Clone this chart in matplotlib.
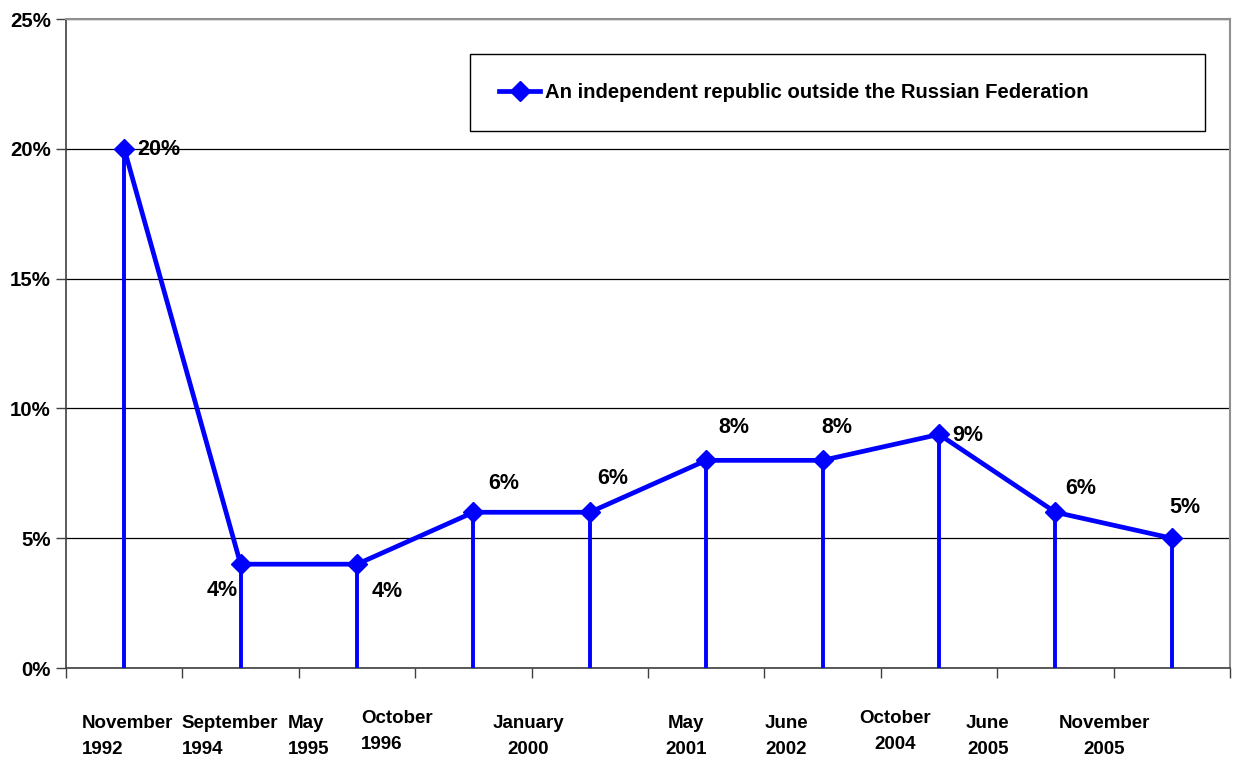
import matplotlib.pyplot as plt
from matplotlib.transforms import blended_transform_factory

plt.rcParams['font.family'] = ['Liberation Sans', 'DejaVu Sans']
plt.rcParams['font.weight'] = 'bold'

dates = ['November\n1992', 'September\n1994', 'May\n1995', 'October\n1996',
         'January\n2000', 'May\n2001', 'June\n2002', 'October\n2004',
         'June\n2005', 'November\n2005']
values = [20, 4, 4, 6, 6, 8, 8, 9, 6, 5]
series_name = 'An independent republic outside the Russian Federation'

# where Excel happened to put each category label (offset in categories, height in px)
label_dx = [0.03, -0.09, -0.42, -0.66, -0.53, -0.17, -0.31, -0.38, -0.58, -0.58]
label_dy = [-47, -47, -47, -42, -47, -47, -47, -42, -47, -47]
label_align = ['left', 'left', 'left', 'left', 'center', 'center', 'center', 'center', 'center', 'center']
# data label offsets in pixels
val_off = [(35, -1), (-18, -26), (30, -27), (30, 29), (23, 34),
           (28, 33), (14, 33), (29, -1), (25, 24), (13, 31)]

fig = plt.figure(figsize=(12.48, 7.58), dpi=100)
ax = fig.add_axes([0.0529, 0.1187, 0.9327, 0.8562])

x = list(range(len(values)))
ax.vlines(x, 0, values, colors='#0000ff', lw=2.8, zorder=3)
ax.plot(x, values, color='#0000ff', lw=3.4, marker='D', markersize=10,
        label=series_name, zorder=4)

for i, v in enumerate(values):
    ax.annotate(f'{v}%', (i, v), xytext=val_off[i], textcoords='offset pixels',
                ha='center', va='center', fontsize=15.5, fontweight='bold')

ax.set_xlim(-0.5, len(values) - 0.5)
ax.set_ylim(0, 25)
ax.set_yticks([0, 5, 10, 15, 20, 25])
ax.set_yticklabels([f'{t}%' for t in [0, 5, 10, 15, 20, 25]], fontsize=14.7, fontweight='bold')
ax.set_xticks([i - 0.5 for i in range(len(values) + 1)])
ax.set_xticklabels([])
ax.tick_params(axis='x', direction='out', length=7, width=1, color='#404040')
ax.tick_params(axis='y', direction='out', length=7, width=1, color='#404040', pad=4)

ax.grid(axis='y', color='black', lw=0.9, zorder=1)
ax.set_axisbelow(True)

for s in ['left', 'bottom']:
    ax.spines[s].set_color('#404040')
    ax.spines[s].set_linewidth(1.2)
for s in ['top', 'right']:
    ax.spines[s].set_color('#909090')
    ax.spines[s].set_linewidth(1.5)

trans = blended_transform_factory(ax.transData, ax.transAxes)
for i, lab in enumerate(dates):
    ax.annotate(lab, (i + label_dx[i], 0), xycoords=trans,
                xytext=(0, label_dy[i]), textcoords='offset pixels',
                ha='center', va='top', multialignment=label_align[i],
                fontsize=13.5, fontweight='bold', linespacing=1.7)

leg = ax.legend(loc='center left', bbox_to_anchor=(0.347, 0.8259, 0.6315, 0.1217),
                mode='expand', borderaxespad=0, fancybox=False, framealpha=1,
                edgecolor='black', prop={'weight': 'bold', 'size': 14.6},
                handlelength=2.0, handletextpad=0.25, borderpad=1.45)
leg.get_frame().set_linewidth(1.0)

fig.savefig('out.png', dpi=100)
